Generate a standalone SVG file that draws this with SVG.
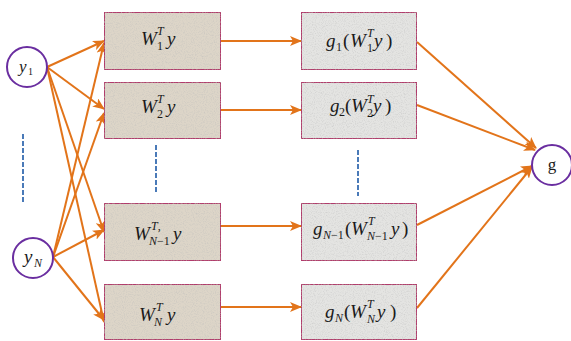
<svg xmlns="http://www.w3.org/2000/svg" width="571" height="341" viewBox="0 0 571 341">
<style>
.bw{fill:#ddd5c8;stroke:#b13a6c;stroke-width:2}
.bg{fill:#e4e4e2;stroke:#b13a6c;stroke-width:2}
.c{fill:#fff;stroke:#6a2ea0;stroke-width:2}
.e{fill:none;stroke:#e2741a;stroke-width:2}
.d{fill:none;stroke:#4a7ab8;stroke-width:2;stroke-dasharray:5 2}
text{font-family:"Liberation Serif","Times New Roman",serif;fill:#1a1a1a}
.i{font-style:italic}
.m{font-size:19px}
.s{font-size:12px}
</style>
<defs>
<marker id="a" viewBox="0 0 12 10" refX="11" refY="5" markerWidth="12" markerHeight="10" markerUnits="userSpaceOnUse" orient="auto">
<path d="M0,0 L12,5 L0,10 L3,5 z" fill="#e2741a"/>
</marker>
<filter id="tex" x="0" y="0" width="1" height="1">
<feTurbulence type="fractalNoise" baseFrequency="0.9" numOctaves="2" seed="3" result="n"/>
<feColorMatrix in="n" type="matrix" values="0 0 0 0 0.5  0 0 0 0 0.5  0 0 0 0 0.5  0 0 0 1.2 -0.55" result="sp"/>
<feComposite in="sp" in2="SourceGraphic" operator="in" result="sp2"/>
<feMerge><feMergeNode in="SourceGraphic"/><feMergeNode in="sp2"/></feMerge>
</filter>
</defs>

<g id="dashes">
<line class="d" x1="23" y1="134" x2="23" y2="202"/>
<line class="d" x1="156" y1="145" x2="156" y2="192"/>
<line class="d" x1="358" y1="150" x2="358" y2="196"/>
</g>

<g id="connectors">
<line class="e" x1="47" y1="67" x2="104" y2="41" marker-end="url(#a)"/>
<line class="e" x1="47" y1="67" x2="104" y2="109" marker-end="url(#a)"/>
<line class="e" x1="47" y1="67" x2="104" y2="232" marker-end="url(#a)"/>
<line class="e" x1="47" y1="67" x2="104" y2="322" marker-end="url(#a)"/>
<line class="e" x1="53" y1="257" x2="104" y2="43" marker-end="url(#a)"/>
<line class="e" x1="53" y1="257" x2="104" y2="113" marker-end="url(#a)"/>
<line class="e" x1="53" y1="257" x2="104" y2="230" marker-end="url(#a)"/>
<line class="e" x1="53" y1="257" x2="104" y2="320" marker-end="url(#a)"/>
<line class="e" x1="221" y1="41" x2="301" y2="41" marker-end="url(#a)"/>
<line class="e" x1="221" y1="110" x2="301" y2="110" marker-end="url(#a)"/>
<line class="e" x1="221" y1="226" x2="301" y2="226" marker-end="url(#a)"/>
<line class="e" x1="221" y1="307" x2="301" y2="307" marker-end="url(#a)"/>
<line class="e" x1="417" y1="42" x2="536" y2="148" marker-end="url(#a)"/>
<line class="e" x1="417" y1="105" x2="535" y2="150" marker-end="url(#a)"/>
<line class="e" x1="417" y1="225" x2="532" y2="166" marker-end="url(#a)"/>
<line class="e" x1="417" y1="308" x2="532" y2="167" marker-end="url(#a)"/>
</g>

<g id="y1">
<circle class="c" cx="27" cy="67" r="20"/>
<text x="19" y="72" class="i" font-size="17">y</text>
<text x="28" y="75" font-size="10">1</text>
</g>
<g id="yN">
<circle class="c" cx="33" cy="258" r="20"/>
<text x="24" y="263" class="i m">y</text>
<text x="34" y="267" class="i s">N</text>
</g>
<g id="g">
<circle class="c" cx="552" cy="165" r="20"/>
<text x="552" y="170" text-anchor="middle" font-size="17">g</text>
</g>

<g id="W1">
<rect class="bw" x="104" y="12" width="117" height="58" filter="url(#tex)"/>
<text x="141" y="45" class="i m">W</text>
<text x="157" y="35" class="i s">T</text>
<text x="157" y="50" class="s">1</text>
<text x="167" y="45" class="i m">y</text>
</g>
<g id="W2">
<rect class="bw" x="104" y="82" width="117" height="57" filter="url(#tex)"/>
<text x="141" y="113" class="i m">W</text>
<text x="157" y="103" class="i s">T</text>
<text x="157" y="118" class="s">2</text>
<text x="167" y="113" class="i m">y</text>
</g>
<g id="WN1">
<rect class="bw" x="104" y="203" width="117" height="58" filter="url(#tex)"/>
<text x="134" y="240" class="i m">W</text>
<text x="151" y="230" class="i s">T<tspan font-style="normal">,</tspan></text>
<text x="149" y="245" class="s"><tspan font-style="italic">N</tspan>−1</text>
<text x="173" y="240" class="i m">y</text>
</g>
<g id="WN">
<rect class="bw" x="104" y="284" width="117" height="56" filter="url(#tex)"/>
<text x="139" y="321" class="i m">W</text>
<text x="156" y="311" class="i s">T</text>
<text x="154" y="326" class="i s">N</text>
<text x="167" y="321" class="i m">y</text>
</g>

<g id="g1">
<rect class="bg" x="301" y="12" width="116" height="58" filter="url(#tex)"/>
<text x="326" y="47" class="i m">g</text>
<text x="336" y="51" class="s">1</text>
<text x="343" y="47" class="m">(</text>
<text x="350" y="47" class="i m">W</text>
<text x="367" y="37" class="i s">T</text>
<text x="367" y="52" class="s">1</text>
<text x="374" y="47" class="i m">y</text>
<text x="386" y="47" class="m">)</text>
</g>
<g id="g2">
<rect class="bg" x="301" y="82" width="116" height="57" filter="url(#tex)"/>
<text x="330" y="112" class="i m">g</text>
<text x="339" y="116" class="s">2</text>
<text x="345" y="112" class="m">(</text>
<text x="351" y="112" class="i m">W</text>
<text x="367" y="103" class="i s">T</text>
<text x="367" y="117" class="s">2</text>
<text x="373" y="112" class="i m">y</text>
<text x="385" y="112" class="m">)</text>
</g>
<g id="gN1">
<rect class="bg" x="301" y="203" width="116" height="58" filter="url(#tex)"/>
<text x="313" y="235" class="i m">g</text>
<text x="323" y="239" class="s"><tspan font-style="italic">N</tspan>−1</text>
<text x="345" y="235" class="m">(</text>
<text x="351" y="235" class="i m">W</text>
<text x="368" y="225" class="i s">T</text>
<text x="367" y="240" class="s"><tspan font-style="italic">N</tspan>−1</text>
<text x="391" y="235" class="i m">y</text>
<text x="402" y="235" class="m">)</text>
</g>
<g id="gN">
<rect class="bg" x="301" y="284" width="116" height="56" filter="url(#tex)"/>
<text x="325" y="318" class="i m">g</text>
<text x="335" y="322" class="i s">N</text>
<text x="344" y="318" class="m">(</text>
<text x="350" y="318" class="i m">W</text>
<text x="367" y="308" class="i s">T</text>
<text x="367" y="323" class="i s">N</text>
<text x="377" y="318" class="i m">y</text>
<text x="390" y="318" class="m">)</text>
</g>
</svg>
